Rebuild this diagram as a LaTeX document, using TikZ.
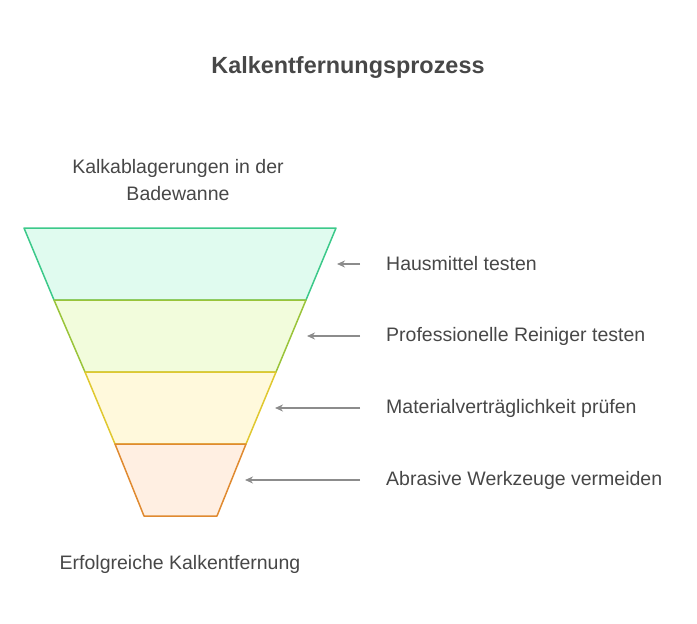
\documentclass[tikz,border=0pt]{standalone}
\usepackage{fontspec}
\setmainfont{Liberation Sans}
\usetikzlibrary{arrows.meta}
\definecolor{fillA}{HTML}{E0FBEF}\definecolor{lineA}{HTML}{3CC98A}
\definecolor{fillB}{HTML}{F2FCDC}\definecolor{lineB}{HTML}{9AC43A}
\definecolor{fillC}{HTML}{FFF9DC}\definecolor{lineC}{HTML}{E0C830}
\definecolor{fillD}{HTML}{FFEFE2}\definecolor{lineD}{HTML}{E08A30}
\definecolor{txt}{HTML}{474747}
\begin{document}
\begin{tikzpicture}[x=1pt,y=-1pt,>={Stealth[length=8pt,width=7pt]},
  layer/.style={line width=1.5pt,line join=round},
  hint/.style={->,draw=gray!90,line width=1.5pt},
  steptext/.style={anchor=west,inner sep=0pt,text=txt,font=\fontsize{19.5}{23}\selectfont}]
  \useasboundingbox (0,0) rectangle (697,624);
  \node[text=txt,font=\bfseries\fontsize{23.4}{27}\selectfont] (title) at (348,67) {Kalkentfernungsprozess};
  \node[text=txt,align=center,font=\fontsize{19.5}{27}\selectfont] (start) at (178,180) {Kalkablagerungen in der\\Badewanne};
  \node[text=txt,font=\fontsize{19.5}{23}\selectfont] (goal) at (180,564) {Erfolgreiche Kalkentfernung};

  \filldraw[layer,fill=fillA,draw=lineA] (24,228) -- (336,228) -- (306,300) -- (54,300) -- cycle;
  \filldraw[layer,fill=fillB,draw=lineB] (54,300) -- (306,300) -- (276,372) -- (85,372) -- cycle;
  \filldraw[layer,fill=fillC,draw=lineC] (85,372) -- (276,372) -- (246,444) -- (115,444) -- cycle;
  \filldraw[layer,fill=fillD,draw=lineD] (115,444) -- (246,444) -- (217,516) -- (144,516) -- cycle;

  \coordinate (tipA) at (337,264);
  \coordinate (tipB) at (307,336);
  \coordinate (tipC) at (275,408);
  \coordinate (tipD) at (245,480);
  \node[steptext] (stepA) at (386,264) {Hausmittel testen};
  \node[steptext] (stepB) at (386,336) {Professionelle Reiniger testen};
  \node[steptext] (stepC) at (386,408) {Materialverträglichkeit prüfen};
  \node[steptext] (stepD) at (386,480) {Abrasive Werkzeuge vermeiden};
  \foreach \s in {A,B,C,D}
    \draw[hint] ([xshift=-26pt]step\s.west) -- (tip\s);
\end{tikzpicture}
\end{document}
